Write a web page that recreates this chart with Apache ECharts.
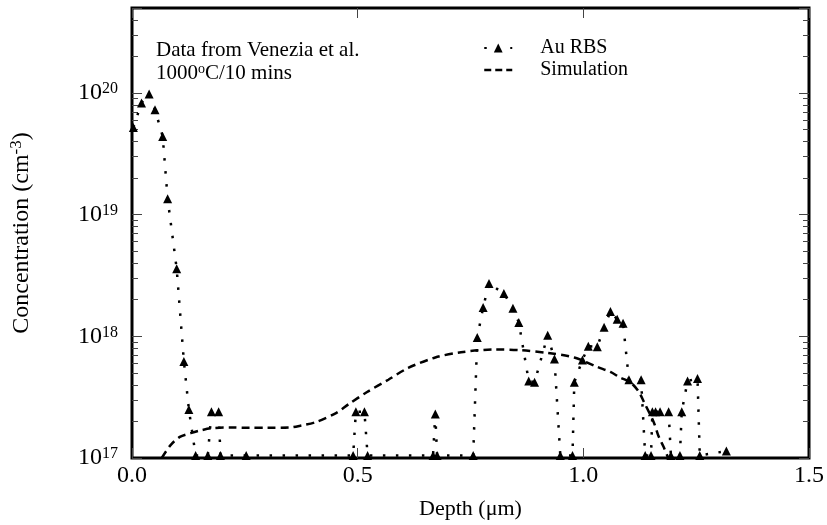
<!DOCTYPE html>
<html>
<head>
  <meta charset="utf-8"/>
  <script src="https://cdn.jsdelivr.net/npm/echarts@6/dist/echarts.min.js"></script>
</head>
<body style="margin:0">
  <div id="chartmain" style="width:827px; height:525px;"></div>

  <script type="text/javascript">
    // Au RBS points (depth in um, concentration in cm-3)
    var rbsDepth = [0.003, 0.021, 0.038, 0.051, 0.068, 0.079, 0.099, 0.115, 0.126, 0.141,
                    0.168, 0.176, 0.192, 0.196, 0.253, 0.490, 0.496, 0.515, 0.522, 0.667,
                    0.672, 0.676, 0.756, 0.765, 0.778, 0.791, 0.824, 0.844, 0.857, 0.879,
                    0.892, 0.921, 0.936, 0.949, 0.976, 0.980, 0.998, 1.011, 1.031, 1.046,
                    1.060, 1.075, 1.088, 1.101, 1.128, 1.137, 1.150, 1.153, 1.160, 1.170,
                    1.189, 1.194, 1.214, 1.218, 1.231, 1.253, 1.258, 1.317];
    var rbsConc = [5.2e19, 8.3e19, 9.8e19, 7.3e19, 4.4e19, 1.35e19, 3.6e18, 6.2e17, 2.5e17, 1.05e17,
                   1.05e17, 2.4e17, 2.4e17, 1.05e17, 1.05e17, 1.05e17, 2.4e17, 2.4e17, 1.05e17, 1.05e17,
                   2.3e17, 1.05e17, 1.05e17, 9.8e17, 1.73e18, 2.72e18, 2.25e18, 1.7e18, 1.3e18, 4.3e17,
                   4.2e17, 1.02e18, 6.5e17, 1.05e17, 1.05e17, 4.2e17, 6.4e17, 8.3e17, 8.2e17, 1.19e18,
                   1.6e18, 1.38e18, 1.28e18, 4.4e17, 4.4e17, 1.05e17, 1.05e17, 2.4e17, 2.4e17, 2.4e17,
                   2.4e17, 1.05e17, 1.05e17, 2.4e17, 4.3e17, 4.5e17, 1.05e17, 1.14e17];

    // simulation curve
    var simDepth = [0.066, 0.085, 0.106, 0.130, 0.150, 0.178, 0.220, 0.260, 0.300, 0.348,
                    0.375, 0.407, 0.452, 0.480, 0.520, 0.568, 0.612, 0.672, 0.729, 0.804,
                    0.861, 0.921, 0.980, 1.031, 1.060, 1.081, 1.104, 1.123, 1.134, 1.156,
                    1.167, 1.178, 1.188];
    var simConc = [1.0e17, 1.27e17, 1.49e17, 1.6e17, 1.68e17, 1.76e17, 1.78e17, 1.77e17, 1.77e17, 1.78e17,
                   1.85e17, 1.97e17, 2.34e17, 2.77e17, 3.47e17, 4.4e17, 5.5e17, 6.7e17, 7.4e17, 7.8e17,
                   7.7e17, 7.3e17, 6.7e17, 5.6e17, 5.1e17, 4.6e17, 4.2e17, 3.5e17, 2.9e17, 1.97e17,
                   1.5e17, 1.23e17, 1.0e17];

    var xTicks = [0, 0.5, 1.0, 1.5];
    var yMin = 1e17, yMax = 5e20;

    var serif = "'Liberation Serif', 'Times New Roman', serif";

    // minor ticks 2..9 x 10^n, in log10 space
    var minorTicks = [];
    for (var n = 17; n <= 20; n++) {
      for (var k = 2; k <= 9; k++) {
        if (k * Math.pow(10, n) <= yMax) minorTicks.push(Math.log10(k) + n);
      }
    }

    function pairs(xs, ys) {
      return xs.map(function (x, i) { return [x, ys[i]]; });
    }

    var tickStyle = {show: true, inside: true, length: 10, lineStyle: {color: '#444', width: 1}};

    function majorY(pos, labels) {
      return {
        type: 'log', logBase: 10, min: yMin, max: yMax, position: pos,
        axisLine: {show: false},
        splitLine: {show: false},
        axisTick: tickStyle,
        axisLabel: {
          show: labels, margin: 14,
          formatter: function (v) {
            var p = Math.log10(v);
            if (Math.abs(p - Math.round(p)) > 1e-6) return '';
            return '{b|10}{s|' + Math.round(p) + '}';
          },
          rich: {
            b: {fontFamily: serif, fontSize: 24, lineHeight: 24, color: '#000'},
            s: {fontFamily: serif, fontSize: 16, lineHeight: 14, color: '#000', verticalAlign: 'top'}
          }
        },
        name: labels ? '{a|Concentration (cm}{s|-3}{a|)}' : '',
        nameLocation: 'middle', nameGap: 97,
        nameTextStyle: {
          rich: {
            a: {fontFamily: serif, fontSize: 24, color: '#000'},
            s: {fontFamily: serif, fontSize: 17, color: '#000', padding: [0, 0, 10, 0]}
          }
        }
      };
    }

    function minorY(pos) {
      return {
        type: 'value', min: 17, max: Math.log10(yMax), position: pos,
        axisLine: {show: false}, splitLine: {show: false},
        axisLabel: {show: false},
        axisTick: {show: true, inside: true, length: 6, customValues: minorTicks,
                   lineStyle: {color: '#444', width: 1}}
      };
    }

    var option = {
      animation: false,
      backgroundColor: '#fff',
      grid: {left: 132, right: 14, top: 8, bottom: 66, show: true,
             borderColor: '#000', borderWidth: 3, backgroundColor: 'transparent'},
      legend: {
        orient: 'vertical', left: 483, top: 38, padding: 0,
        itemWidth: 28, itemHeight: 11, itemGap: 2,
        textStyle: {fontFamily: serif, fontSize: 20, color: '#000', padding: [0, 0, 0, 23]},
        data: [
          {name: 'Au RBS'},
          {name: 'Simulation', lineStyle: {type: [7, 4], width: 2.5, color: '#000'}}
        ]
      },
      graphic: [
        {type: 'text', left: 156, top: 40,
         style: {text: 'Data from Venezia et al.', font: '21px ' + serif, fill: '#000'}},
        {type: 'text', left: 156, top: 62,
         style: {text: '1000{o|o}C/10 mins', font: '21px ' + serif, fill: '#000',
                 rich: {o: {fontFamily: serif, fontSize: 14, fill: '#000', padding: [0, 0, 8, 0]}}}}
      ],
      xAxis: [{
        type: 'value', min: 0, max: 1.5, interval: 0.5, position: 'bottom',
        axisLine: {show: false}, splitLine: {show: false},
        axisTick: tickStyle,
        axisLabel: {margin: 6, fontFamily: serif, fontSize: 24, color: '#000',
                    formatter: function (v) { return v.toFixed(1); }},
        name: 'Depth (\u03bcm)', nameLocation: 'middle', nameGap: 40,
        nameTextStyle: {fontFamily: serif, fontSize: 22, color: '#000'}
      }, {
        type: 'value', min: 0, max: 1.5, interval: 0.5, position: 'top',
        axisLine: {show: false}, splitLine: {show: false},
        axisTick: tickStyle, axisLabel: {show: false}
      }],
      yAxis: [majorY('left', true), minorY('left'), majorY('right', false), minorY('right')],
      series: [{
        name: 'Au RBS', type: 'line', xAxisIndex: 0, yAxisIndex: 0,
        data: pairs(rbsDepth, rbsConc),
        symbol: 'triangle', symbolSize: 9, showAllSymbol: true, clip: true,
        itemStyle: {color: '#000'},
        lineStyle: {color: '#000', width: 2.5, type: [2.5, 10.5], cap: 'butt'},
        z: 3
      }, {
        name: 'Simulation', type: 'line', xAxisIndex: 0, yAxisIndex: 0,
        data: pairs(simDepth, simConc),
        symbol: 'circle', showSymbol: false, smooth: 0.3, clip: true,
        itemStyle: {color: 'rgba(0,0,0,0)'},
        lineStyle: {color: '#000', width: 2.5, type: [8, 5], cap: 'butt'}
      }]
    };

    var myChart = echarts.init(document.getElementById('chartmain'));
    myChart.setOption(option);
  </script>
</body>
</html>
